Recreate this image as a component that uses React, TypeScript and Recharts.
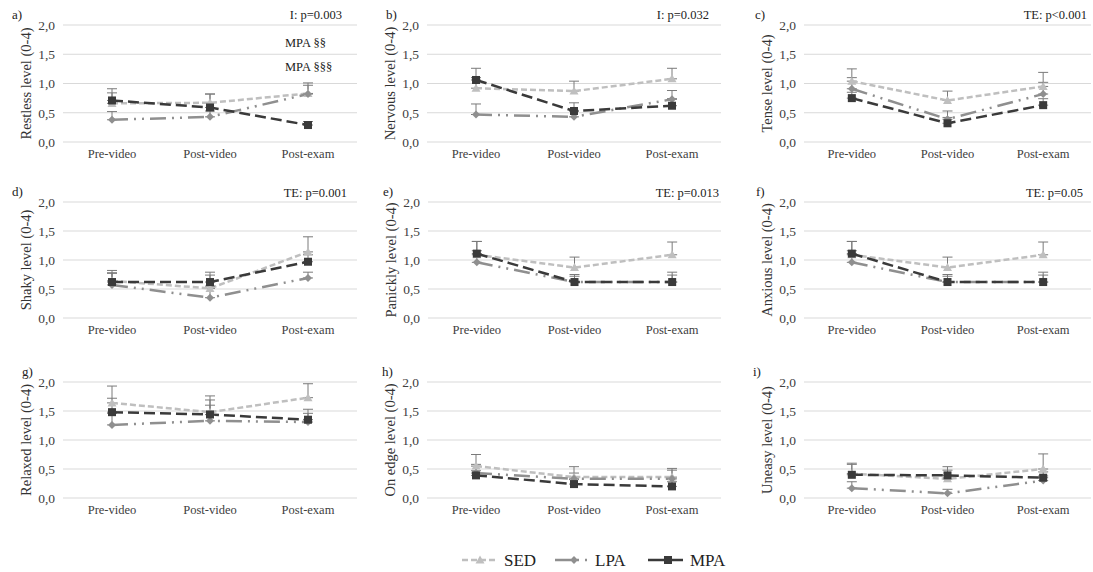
import React from 'react';
import { LineChart, Line, XAxis, YAxis, CartesianGrid, ErrorBar } from 'recharts';

const categories = ['Pre-video', 'Post-video', 'Post-exam'];
const yTicks = [0, 0.5, 1, 1.5, 2];

// means and upper SE per series, one set per panel
const restlessSED = [0.66, 0.67, 0.83];
const restlessSEDErr = [0.18, 0.15, 0.18];
const restlessLPA = [0.38, 0.43, 0.82];
const restlessLPAErr = [0.14, 0.1, 0.15];
const restlessMPA = [0.71, 0.59, 0.29];
const restlessMPAErr = [0.2, 0.23, 0.06];

const nervousSED = [0.92, 0.87, 1.08];
const nervousSEDErr = [0.18, 0.17, 0.18];
const nervousLPA = [0.47, 0.43, 0.73];
const nervousLPAErr = [0.18, 0.1, 0.15];
const nervousMPA = [1.06, 0.53, 0.62];
const nervousMPAErr = [0.2, 0.14, 0.12];

const tenseSED = [1.04, 0.71, 0.95];
const tenseSEDErr = [0.21, 0.16, 0.24];
const tenseLPA = [0.91, 0.39, 0.82];
const tenseLPAErr = [0.19, 0.14, 0.2];
const tenseMPA = [0.75, 0.32, 0.63];
const tenseMPAErr = [0.1, 0.1, 0.11];

const shakySED = [0.64, 0.51, 1.14];
const shakySEDErr = [0.18, 0.28, 0.26];
const shakyLPA = [0.57, 0.35, 0.69];
const shakyLPAErr = [0.2, 0.2, 0.1];
const shakyMPA = [0.62, 0.62, 0.97];
const shakyMPAErr = [0.16, 0.12, 0.12];

const panicklySED = [1.09, 0.87, 1.09];
const panicklySEDErr = [0.23, 0.18, 0.22];
const panicklyLPA = [0.96, 0.62, 0.62];
const panicklyLPAErr = [0.2, 0.1, 0.12];
const panicklyMPA = [1.11, 0.62, 0.62];
const panicklyMPAErr = [0.21, 0.13, 0.17];

const anxiousSED = [1.09, 0.87, 1.09];
const anxiousSEDErr = [0.23, 0.18, 0.22];
const anxiousLPA = [0.96, 0.62, 0.62];
const anxiousLPAErr = [0.2, 0.1, 0.12];
const anxiousMPA = [1.11, 0.62, 0.62];
const anxiousMPAErr = [0.21, 0.13, 0.17];

const relaxedSED = [1.64, 1.48, 1.73];
const relaxedSEDErr = [0.29, 0.28, 0.24];
const relaxedLPA = [1.26, 1.33, 1.31];
const relaxedLPAErr = [0.2, 0.27, 0.15];
const relaxedMPA = [1.48, 1.44, 1.35];
const relaxedMPAErr = [0.24, 0.25, 0.18];

const onEdgeSED = [0.55, 0.36, 0.36];
const onEdgeSEDErr = [0.2, 0.18, 0.15];
const onEdgeLPA = [0.43, 0.33, 0.33];
const onEdgeLPAErr = [0.15, 0.1, 0.15];
const onEdgeMPA = [0.39, 0.24, 0.2];
const onEdgeMPAErr = [0.08, 0.08, 0.08];

const uneasySED = [0.42, 0.33, 0.5];
const uneasySEDErr = [0.18, 0.15, 0.26];
const uneasyLPA = [0.17, 0.08, 0.3];
const uneasyLPAErr = [0.11, 0.07, 0.08];
const uneasyMPA = [0.4, 0.39, 0.35];
const uneasyMPAErr = [0.18, 0.15, 0.1];

const SED_COLOR = '#bfbfbf';
const LPA_COLOR = '#8f8f8f';
const MPA_COLOR = '#3a3a3a';
const ERR_COLOR = '#7a7a7a';
const FONT = 'Liberation Serif, Times New Roman, serif';

const SED_DASH = '6 3';
const LPA_DASH = '16 6 2 6 2 6';
const MPA_DASH = '11 5';

const triangleDot = (props: any) => {
  const { cx, cy, index } = props;
  if (cx == null || cy == null) return <g key={`t${index}`} />;
  return <path key={`t${index}`} d={`M${cx},${cy - 4.5} L${cx + 4.5},${cy + 3.5} L${cx - 4.5},${cy + 3.5} Z`} fill={SED_COLOR} />;
};

const diamondDot = (props: any) => {
  const { cx, cy, index } = props;
  if (cx == null || cy == null) return <g key={`d${index}`} />;
  return <path key={`d${index}`} d={`M${cx},${cy - 4} L${cx + 4},${cy} L${cx},${cy + 4} L${cx - 4},${cy} Z`} fill={LPA_COLOR} />;
};

const squareDot = (props: any) => {
  const { cx, cy, index } = props;
  if (cx == null || cy == null) return <g key={`s${index}`} />;
  return <rect key={`s${index}`} x={cx - 4} y={cy - 4} width={8} height={8} fill={MPA_COLOR} />;
};

interface PanelProps {
  letter: string;
  title: string;
  x0: number; x1: number; y0: number; y1: number;
  sed: number[]; sedErr: number[];
  lpa: number[]; lpaErr: number[];
  mpa: number[]; mpaErr: number[];
  letterX: number;
  notes?: { text: string; x: number; y: number; anchor: 'start' | 'end' }[];
}

const LEFT = 60;
const TOP = 10;
const BOTTOM = 25;

function Panel(p: PanelProps) {
  const data = categories.map((c, i) => ({
    name: c,
    sed: p.sed[i], sedErr: [0, p.sedErr[i]],
    lpa: p.lpa[i], lpaErr: [0, p.lpaErr[i]],
    mpa: p.mpa[i], mpaErr: [0, p.mpaErr[i]],
  }));
  const w = p.x1 - p.x0;
  const h = p.y1 - p.y0;
  const pad = w / 6;

  return (
    <>
      <div style={{ position: 'absolute', left: p.x0 - LEFT, top: p.y0 - TOP }}>
        <LineChart width={w + LEFT + 2} height={h + TOP + BOTTOM} data={data}
          margin={{ top: TOP, right: 2, left: 0, bottom: 0 }} style={{ fontFamily: FONT }}>
          <CartesianGrid vertical={false} stroke="#d9d9d9" />
          <XAxis dataKey="name" axisLine={false} tickLine={false} height={BOTTOM} tickMargin={1}
            padding={{ left: pad, right: pad }} interval={0}
            tick={{ fill: '#404040', fontSize: 12.5, style: { fontFamily: FONT } }} />
          <YAxis domain={[0, 2]} ticks={yTicks} width={LEFT} axisLine={false} tickLine={false}
            tickFormatter={(v: number) => v.toFixed(1).replace('.', ',')}
            tick={{ fill: '#404040', fontSize: 13.5, style: { fontFamily: FONT } }}
            label={{
              content: (lp: any) => {
                const vb = lp.viewBox || {};
                const tx = (vb.x ?? 0) + LEFT - 37;
                const ty = (vb.y ?? TOP) + (vb.height ?? h) / 2;
                return (
                  <text x={tx} y={ty} transform={`rotate(-90 ${tx} ${ty})`} textAnchor="middle"
                    dominantBaseline="central" fontSize={14.5} style={{ fontFamily: FONT }} fill="#333">
                    {p.title}
                  </text>
                );
              },
            }} />
          <Line dataKey="sed" stroke={SED_COLOR} strokeWidth={2.5} strokeDasharray={SED_DASH}
            dot={triangleDot} activeDot={false} isAnimationActive={false}>
            <ErrorBar dataKey="sedErr" direction="y" width={5} stroke={ERR_COLOR} strokeWidth={1} isAnimationActive={false} />
          </Line>
          <Line dataKey="lpa" stroke={LPA_COLOR} strokeWidth={2.5} strokeDasharray={LPA_DASH}
            dot={diamondDot} activeDot={false} isAnimationActive={false}>
            <ErrorBar dataKey="lpaErr" direction="y" width={5} stroke={ERR_COLOR} strokeWidth={1} isAnimationActive={false} />
          </Line>
          <Line dataKey="mpa" stroke={MPA_COLOR} strokeWidth={2.5} strokeDasharray={MPA_DASH}
            dot={squareDot} activeDot={false} isAnimationActive={false}>
            <ErrorBar dataKey="mpaErr" direction="y" width={5} stroke={ERR_COLOR} strokeWidth={1} isAnimationActive={false} />
          </Line>
        </LineChart>
      </div>
      <div style={{ position: 'absolute', left: p.letterX, top: p.y0 - 17, fontSize: 13, fontFamily: FONT, color: '#222', lineHeight: '14px' }}>
        {p.letter}
      </div>
      {(p.notes || []).map((n) => (
        <div key={n.text} style={{
          position: 'absolute', top: n.y - 8, fontSize: 12.5, fontFamily: FONT, color: '#222', lineHeight: '16px',
          whiteSpace: 'nowrap',
          ...(n.anchor === 'end' ? { right: 1093 - n.x } : { left: n.x }),
        }}>{n.text}</div>
      ))}
    </>
  );
}

function Legend() {
  const y = 15;
  const ts = { fontFamily: FONT };
  return (
    <svg width={320} height={30} style={{ position: 'absolute', left: 440, top: 545 }}>
      <line x1={22} x2={58} y1={y} y2={y} stroke={SED_COLOR} strokeWidth={2.5} strokeDasharray={SED_DASH} />
      {triangleDot({ cx: 40, cy: y, index: 'l' })}
      <text x={64} y={y} dominantBaseline="central" fontSize={17} style={ts} fill="#222">SED</text>
      <line x1={115} x2={152} y1={y} y2={y} stroke={LPA_COLOR} strokeWidth={2.5} strokeDasharray={LPA_DASH} />
      {diamondDot({ cx: 134, cy: y, index: 'l' })}
      <text x={155} y={y} dominantBaseline="central" fontSize={17} style={ts} fill="#222">LPA</text>
      <line x1={208} x2={243} y1={y} y2={y} stroke={MPA_COLOR} strokeWidth={2.5} />
      {squareDot({ cx: 228, cy: y, index: 'l' })}
      <text x={250} y={y} dominantBaseline="central" fontSize={17} style={ts} fill="#222">MPA</text>
    </svg>
  );
}

export default function App() {
  return (
    <div style={{ position: 'absolute', left: 0, top: 0, width: 1093, height: 572, background: '#fff', overflow: 'hidden', fontFamily: FONT }}>
      <Panel letter="a)" title="Restless level (0-4)" x0={63} x1={357} y0={25} y1={142} letterX={12}
        sed={restlessSED} sedErr={restlessSEDErr} lpa={restlessLPA} lpaErr={restlessLPAErr} mpa={restlessMPA} mpaErr={restlessMPAErr}
        notes={[
          { text: 'I: p=0.003', x: 342, y: 15, anchor: 'end' },
          { text: 'MPA §§', x: 285, y: 43, anchor: 'start' },
          { text: 'MPA §§§', x: 285, y: 67, anchor: 'start' },
        ]} />
      <Panel letter="b)" title="Nervous level (0-4)" x0={427} x1={721} y0={25} y1={142} letterX={386}
        sed={nervousSED} sedErr={nervousSEDErr} lpa={nervousLPA} lpaErr={nervousLPAErr} mpa={nervousMPA} mpaErr={nervousMPAErr}
        notes={[{ text: 'I: p=0.032', x: 709, y: 15, anchor: 'end' }]} />
      <Panel letter="c)" title="Tense level (0-4)" x0={804} x1={1091} y0={25} y1={142} letterX={755}
        sed={tenseSED} sedErr={tenseSEDErr} lpa={tenseLPA} lpaErr={tenseLPAErr} mpa={tenseMPA} mpaErr={tenseMPAErr}
        notes={[{ text: 'TE: p<0.001', x: 1087, y: 15, anchor: 'end' }]} />

      <Panel letter="d)" title="Shaky level (0-4)" x0={63} x1={357} y0={202} y1={318} letterX={12}
        sed={shakySED} sedErr={shakySEDErr} lpa={shakyLPA} lpaErr={shakyLPAErr} mpa={shakyMPA} mpaErr={shakyMPAErr}
        notes={[{ text: 'TE: p=0.001', x: 347, y: 193, anchor: 'end' }]} />
      <Panel letter="e)" title="Panickly level (0-4)" x0={428} x1={721} y0={202} y1={318} letterX={383}
        sed={panicklySED} sedErr={panicklySEDErr} lpa={panicklyLPA} lpaErr={panicklyLPAErr} mpa={panicklyMPA} mpaErr={panicklyMPAErr}
        notes={[{ text: 'TE: p=0.013', x: 719, y: 193, anchor: 'end' }]} />
      <Panel letter="f)" title="Anxious level (0-4)" x0={804} x1={1091} y0={202} y1={318} letterX={756}
        sed={anxiousSED} sedErr={anxiousSEDErr} lpa={anxiousLPA} lpaErr={anxiousLPAErr} mpa={anxiousMPA} mpaErr={anxiousMPAErr}
        notes={[{ text: 'TE: p=0.05', x: 1083, y: 193, anchor: 'end' }]} />

      <Panel letter="g)" title="Relaxed level (0-4)" x0={63} x1={357} y0={382} y1={498} letterX={22}
        sed={relaxedSED} sedErr={relaxedSEDErr} lpa={relaxedLPA} lpaErr={relaxedLPAErr} mpa={relaxedMPA} mpaErr={relaxedMPAErr} />
      <Panel letter="h)" title="On edge level (0-4)" x0={427} x1={721} y0={382} y1={498} letterX={382}
        sed={onEdgeSED} sedErr={onEdgeSEDErr} lpa={onEdgeLPA} lpaErr={onEdgeLPAErr} mpa={onEdgeMPA} mpaErr={onEdgeMPAErr} />
      <Panel letter="i)" title="Uneasy level (0-4)" x0={804} x1={1091} y0={382} y1={498} letterX={753}
        sed={uneasySED} sedErr={uneasySEDErr} lpa={uneasyLPA} lpaErr={uneasyLPAErr} mpa={uneasyMPA} mpaErr={uneasyMPAErr} />

      <Legend />
    </div>
  );
}
